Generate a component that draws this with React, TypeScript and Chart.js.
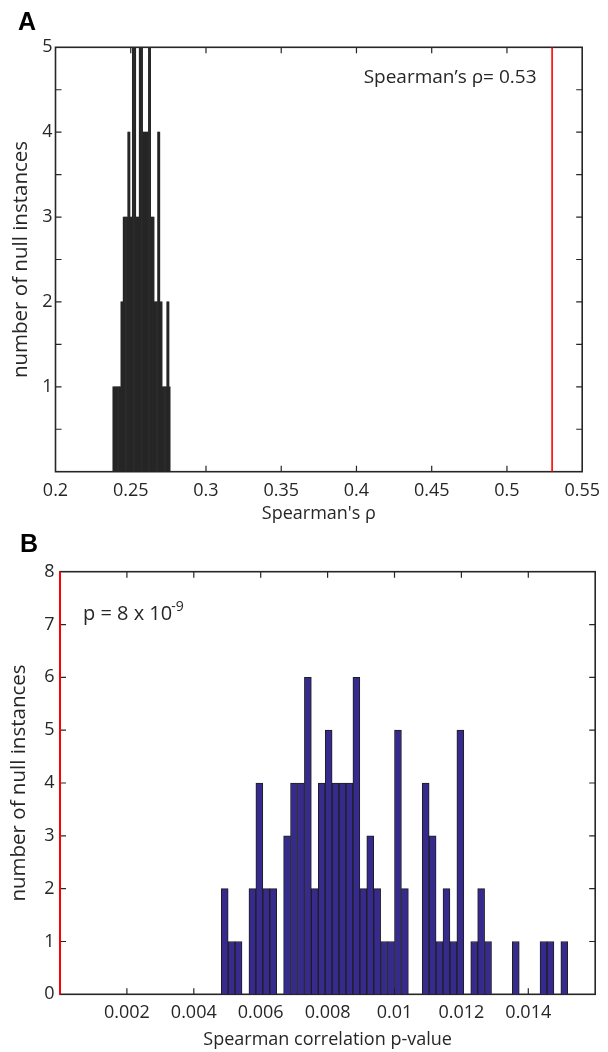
import React, { useEffect, useRef } from 'react';
import { Chart, registerables } from 'chart.js';

Chart.register(...registerables);

const FONT = '"Open Sans", "DejaVu Sans", sans-serif';
const INK = '#262626';

// ---------------- Panel A: Spearman's rho of null instances ----------------
const rhoBinCenters = [
  0.238452, 0.239215, 0.239977, 0.240740, 0.241503, 0.242265, 0.243028, 0.243791, 0.244554, 0.245316,
  0.246079, 0.246842, 0.247604, 0.248367, 0.249130, 0.249893, 0.250655, 0.251418, 0.252181, 0.252943,
  0.253706, 0.254469, 0.255232, 0.255994, 0.256757, 0.257520, 0.258282, 0.259045, 0.259808, 0.260571,
  0.261333, 0.262096, 0.262859, 0.263621, 0.264384, 0.265147, 0.265910, 0.266672, 0.267435, 0.268198,
  0.268960, 0.269723, 0.270486, 0.271249, 0.272011, 0.272774, 0.273537, 0.274299, 0.275062, 0.275825,
];
const rhoCounts = [
  1, 1, 1, 1, 1, 1, 1, 2, 2, 3,
  3, 3, 3, 4, 4, 3, 3, 6, 7, 6,
  3, 3, 3, 6, 7, 6, 4, 4, 4, 4,
  4, 6, 6, 3, 3, 3, 2, 2, 2, 4,
  4, 2, 2, 1, 1, 1, 1, 2, 2, 1,
];
const observedRho = 0.53;
const rhoAxisMin = 0.2;
const rhoAxisMax = 0.55;
const rhoTickStep = 0.05;
const countMaxA = 5;
const countStepA = 0.5;

// ---------------- Panel B: Spearman correlation p-values of null instances ----------------
const pBinCenters = [
  0.0049236, 0.0051308, 0.0053380, 0.0055452, 0.0057524, 0.0059596, 0.0061668, 0.0063740, 0.0065812, 0.0067884,
  0.0069956, 0.0072028, 0.0074100, 0.0076172, 0.0078244, 0.0080316, 0.0082388, 0.0084460, 0.0086532, 0.0088604,
  0.0090676, 0.0092748, 0.0094820, 0.0096892, 0.0098964, 0.0101036, 0.0103108, 0.0105180, 0.0107252, 0.0109324,
  0.0111396, 0.0113468, 0.0115540, 0.0117612, 0.0119684, 0.0121756, 0.0123828, 0.0125900, 0.0127972, 0.0130044,
  0.0132116, 0.0134188, 0.0136260, 0.0138332, 0.0140404, 0.0142476, 0.0144548, 0.0146620, 0.0148692, 0.0150764,
];
const pCounts = [
  2, 1, 1, 0, 2, 4, 2, 2, 0, 3,
  4, 4, 6, 2, 4, 5, 4, 4, 4, 6,
  2, 3, 2, 1, 1, 5, 2, 0, 0, 4,
  3, 1, 2, 1, 5, 0, 1, 2, 1, 0,
  0, 0, 1, 0, 0, 0, 1, 1, 0, 1,
];
const observedP = 8e-9;
const pAxisMin = 0;
const pAxisMax = 0.016;
const pTickStep = 0.002;
const countMaxB = 8;

const TICK_FONT = { family: FONT, size: 18 };
const YTITLE_FONT = { family: FONT, size: 20.5 };

function framePlugin(tickLen: number) {
  return {
    id: 'matlabFrame',
    beforeDatasetsDraw(chart: any) {
      const { ctx, chartArea } = chart;
      const { left, right, top, bottom } = chartArea;
      const xs = chart.scales.x;
      const ys = chart.scales.y;
      ctx.save();
      ctx.strokeStyle = INK;
      ctx.lineWidth = 1.2;
      ctx.beginPath();
      for (const t of xs.ticks) {
        const px = xs.getPixelForValue(t.value);
        if (px <= left + 1 || px >= right - 1) continue;
        ctx.moveTo(px, bottom);
        ctx.lineTo(px, bottom - tickLen);
        ctx.moveTo(px, top);
        ctx.lineTo(px, top + tickLen);
      }
      for (const t of ys.ticks) {
        const py = ys.getPixelForValue(t.value);
        if (py <= top + 1 || py >= bottom - 1) continue;
        ctx.moveTo(left, py);
        ctx.lineTo(left + tickLen, py);
        ctx.moveTo(right, py);
        ctx.lineTo(right - tickLen, py);
      }
      ctx.stroke();
      ctx.lineWidth = 1.6;
      ctx.strokeRect(left, top, right - left, bottom - top);
      ctx.restore();
    },
  };
}

function textPlugin(draw: (ctx: CanvasRenderingContext2D, area: any) => void) {
  return {
    id: 'panelTexts',
    afterDraw(chart: any) {
      const ctx = chart.ctx as CanvasRenderingContext2D;
      ctx.save();
      draw(ctx, chart.chartArea);
      ctx.restore();
    },
  };
}

function buildA(): any {
  return {
    type: 'bar',
    data: {
      datasets: [
        {
          type: 'line',
          data: [
            { x: observedRho, y: 0 },
            { x: observedRho, y: countMaxA },
          ],
          borderColor: '#ff0000',
          borderWidth: 1.6,
          pointRadius: 0,
          order: 0,
        },
        {
          type: 'bar',
          data: rhoBinCenters.map((x, i) => ({ x, y: rhoCounts[i] })),
          backgroundColor: '#262626',
          borderWidth: 0,
          barPercentage: 1,
          categoryPercentage: 1,
          order: 1,
        },
      ],
    },
    options: {
      animation: false,
      responsive: false,
      devicePixelRatio: 1,
      layout: { padding: { left: 0, top: 47.3, right: 15.3, bottom: 0 } },
      plugins: { legend: { display: false }, tooltip: { enabled: false } },
      scales: {
        x: {
          type: 'linear',
          min: rhoAxisMin,
          max: rhoAxisMax,
          offset: false,
          grid: { display: false, drawTicks: false },
          border: { display: false },
          ticks: {
            stepSize: rhoTickStep,
            padding: 8,
            color: INK,
            font: TICK_FONT,
            maxRotation: 0,
            autoSkip: false,
            callback: (v: any) => String(+Number(v).toFixed(2)),
          },
          title: {
            display: true,
            text: "Spearman's ρ",
            color: INK,
            font: TICK_FONT,
            padding: { top: 0, bottom: 5.5 },
          },
          afterFit: (s: any) => {
            s.height = 58.3;
          },
        },
        y: {
          type: 'linear',
          min: 0,
          max: countMaxA,
          grid: { display: false, drawTicks: false },
          border: { display: false },
          ticks: {
            stepSize: countStepA,
            padding: 3,
            color: INK,
            font: TICK_FONT,
            autoSkip: false,
            callback: (v: any) => (Number.isInteger(v) && v > 0 ? String(v) : ''),
          },
          title: {
            display: true,
            text: 'number of null instances',
            color: INK,
            font: YTITLE_FONT,
            padding: { top: 9, bottom: 0 },
          },
          afterFit: (s: any) => {
            s.width = 55.5;
          },
        },
      },
    },
    plugins: [
      framePlugin(6),
      textPlugin((ctx, area) => {
        ctx.fillStyle = '#000';
        ctx.font = 'bold 25px "Liberation Sans", Arial, sans-serif';
        ctx.textBaseline = 'alphabetic';
        ctx.textAlign = 'left';
        ctx.fillText('A', 18, 30);
        ctx.fillStyle = INK;
        ctx.font = `19px ${FONT}`;
        ctx.textAlign = 'right';
        ctx.fillText('Spearman’s ρ= 0.53', area.right - 45.7, area.top + 35.4);
      }),
    ],
  };
}

function buildB(): any {
  return {
    type: 'bar',
    data: {
      datasets: [
        {
          type: 'line',
          data: [
            { x: observedP, y: 0 },
            { x: observedP, y: countMaxB },
          ],
          borderColor: '#ff0000',
          borderWidth: 2,
          pointRadius: 0,
          clip: false,
          order: 0,
        },
        {
          type: 'bar',
          data: pBinCenters.map((x, i) => ({ x, y: pCounts[i] })),
          backgroundColor: '#362a8c',
          borderColor: '#1e1e1e',
          borderWidth: 1,
          borderSkipped: 'start',
          barPercentage: 1,
          categoryPercentage: 1,
          order: 1,
        },
      ],
    },
    options: {
      animation: false,
      responsive: false,
      devicePixelRatio: 1,
      layout: { padding: { left: 0, top: 41.7, right: 12.8, bottom: 0 } },
      plugins: { legend: { display: false }, tooltip: { enabled: false } },
      scales: {
        x: {
          type: 'linear',
          min: pAxisMin,
          max: pAxisMax,
          offset: false,
          grid: { display: false, drawTicks: false },
          border: { display: false },
          ticks: {
            stepSize: pTickStep,
            padding: 8,
            color: INK,
            font: TICK_FONT,
            maxRotation: 0,
            autoSkip: false,
            callback: (v: any) => {
              const n = +Number(v).toFixed(4);
              return n <= pAxisMin || n >= pAxisMax ? '' : String(n);
            },
          },
          title: {
            display: true,
            text: 'Spearman correlation p-value',
            color: INK,
            font: TICK_FONT,
            padding: { top: 0, bottom: 1.2 },
          },
          afterFit: (s: any) => {
            s.height = 57.7;
          },
        },
        y: {
          type: 'linear',
          min: 0,
          max: countMaxB,
          grid: { display: false, drawTicks: false },
          border: { display: false },
          ticks: {
            stepSize: 1,
            padding: 5.5,
            color: INK,
            font: TICK_FONT,
            autoSkip: false,
          },
          title: {
            display: true,
            text: 'number of null instances',
            color: INK,
            font: YTITLE_FONT,
            padding: { top: 7, bottom: 0 },
          },
          afterFit: (s: any) => {
            s.width = 60;
          },
        },
      },
    },
    plugins: [
      framePlugin(6),
      textPlugin((ctx, area) => {
        ctx.fillStyle = '#000';
        ctx.font = 'bold 25px "Liberation Sans", Arial, sans-serif';
        ctx.textBaseline = 'alphabetic';
        ctx.textAlign = 'left';
        ctx.fillText('B', 20, 21.7);
        ctx.fillStyle = INK;
        ctx.font = `20px ${FONT}`;
        const x0 = area.left + 23;
        const y0 = area.top + 48;
        const main = 'p = 8 x 10';
        ctx.fillText(main, x0, y0);
        const w = ctx.measureText(main).width;
        ctx.font = `14px ${FONT}`;
        ctx.fillText('-9', x0 + w - 1, y0 - 8.5);
      }),
    ],
  };
}

function Panel({ build, top, height }: { build: () => any; top: number; height: number }) {
  const ref = useRef<HTMLCanvasElement>(null);
  useEffect(() => {
    const chart = new Chart(ref.current as HTMLCanvasElement, build());
    return () => chart.destroy();
  }, []);
  return (
    <canvas
      ref={ref}
      width={608}
      height={height}
      style={{ position: 'absolute', left: 0, top, width: 608, height, display: 'block' }}
    />
  );
}

export default function App() {
  return (
    <div style={{ position: 'absolute', left: 0, top: 0, width: 608, height: 1052, background: '#fff', overflow: 'hidden' }}>
      <Panel build={buildA} top={0} height={530} />
      <Panel build={buildB} top={530} height={522} />
    </div>
  );
}
